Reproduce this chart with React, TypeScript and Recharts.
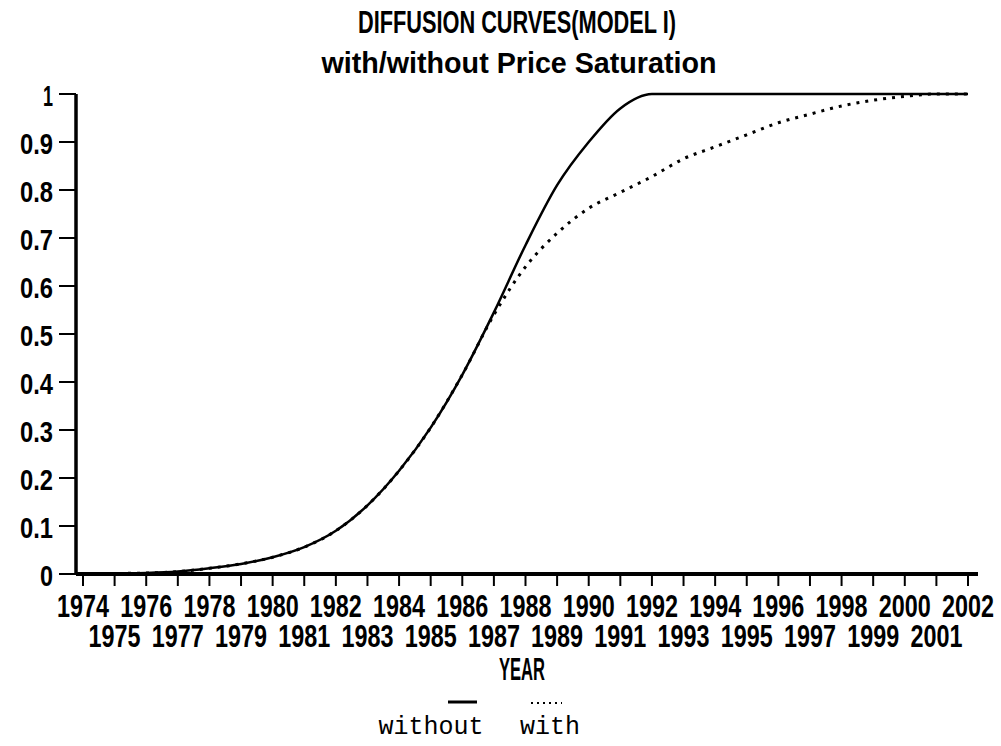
import { LineChart, Line, XAxis, YAxis } from 'recharts'

const years = [
  1974, 1975, 1976, 1977, 1978, 1979, 1980, 1981, 1982, 1983,
  1984, 1985, 1986, 1987, 1988, 1989, 1990, 1991, 1992, 1993,
  1994, 1995, 1996, 1997, 1998, 1999, 2000, 2001, 2002,
]

// share adopted, no price saturation
const withoutSat = [
  0, 0.001, 0.002, 0.005, 0.012, 0.021, 0.035, 0.056, 0.09, 0.143,
  0.215, 0.305, 0.415, 0.545, 0.685, 0.81, 0.9, 0.97, 1, 1,
  1, 1, 1, 1, 1, 1, 1, 1, 1,
]

// share adopted, with price saturation
const withSat = [
  0, 0.001, 0.002, 0.005, 0.012, 0.021, 0.035, 0.056, 0.09, 0.143,
  0.215, 0.305, 0.415, 0.54, 0.64, 0.71, 0.762, 0.795, 0.828, 0.865,
  0.89, 0.915, 0.94, 0.958, 0.975, 0.987, 0.995, 1, 1,
]

const yTicks = [0, 0.1, 0.2, 0.3, 0.4, 0.5, 0.6, 0.7, 0.8, 0.9, 1]

const data = years.map((year, i) => ({
  year,
  without: withoutSat[i],
  with: withSat[i],
}))

const FONT = "'Liberation Sans', Arial, sans-serif"
const MONO = "'Liberation Mono', 'DejaVu Sans Mono', monospace"

// narrow plotter-style lettering: squeeze glyphs to a fixed advance
const labelWidth = (s: string) => {
  if (s === '1') return 10
  let w = 0
  for (const c of s) w += c === '.' ? 7 : 13
  return w
}

function Narrow({ x, y, text, width, anchor = 'middle', size = 31 }: any) {
  return (
    <text
      x={x}
      y={y}
      textAnchor={anchor}
      fill="#000"
      fontFamily={FONT}
      fontWeight="bold"
      fontSize={size}
      textLength={width}
      lengthAdjust="spacingAndGlyphs"
    >
      {text}
    </text>
  )
}

// even years on the first row, odd years on the second
function YearTick({ x, y, payload }: any) {
  const s = String(payload.value)
  const odd = payload.value % 2 === 1
  return <Narrow x={x} y={y + (odd ? 61 : 31)} text={s} width={labelWidth(s)} />
}

function ShareTick({ x, y, payload }: any) {
  const v = payload.value
  const s = v === 0 || v === 1 ? String(v) : v.toFixed(1)
  return <Narrow x={x} y={y + 12} text={s} width={labelWidth(s)} anchor="end" size={30} />
}

export default function App() {
  return (
    <div style={{ position: 'absolute', left: 0, top: 0, width: 1001, height: 746, background: '#fff' }}>
      <LineChart
        width={1001}
        height={746}
        data={data}
        margin={{ top: 94, right: 23, bottom: 92, left: 16 }}
      >
        <XAxis
          dataKey="year"
          type="number"
          domain={[1974, 2002]}
          ticks={years}
          interval={0}
          padding={{ left: 7, right: 10 }}
          height={80}
          tickSize={12}
          tickMargin={0}
          axisLine={{ stroke: '#000', strokeWidth: 4 }}
          tickLine={{ stroke: '#000', strokeWidth: 2 }}
          tick={<YearTick />}
        />
        <XAxis
          xAxisId="top"
          dataKey="year"
          type="number"
          domain={[1974, 2002]}
          orientation="top"
          height={0}
          tick={false}
          tickLine={false}
          axisLine={{ stroke: '#000', strokeWidth: 4 }}
        />
        <YAxis
          domain={[0, 1]}
          ticks={yTicks}
          interval={0}
          width={60}
          tickSize={17}
          tickMargin={6}
          axisLine={{ stroke: '#000', strokeWidth: 3.5 }}
          tickLine={{ stroke: '#000', strokeWidth: 2 }}
          tick={<ShareTick />}
        />
        <YAxis
          yAxisId="right"
          orientation="right"
          domain={[0, 1]}
          width={0}
          tick={false}
          tickLine={false}
          axisLine={{ stroke: '#000', strokeWidth: 3.5 }}
        />
        <Line
          dataKey="with"
          type="monotone"
          stroke="#000"
          strokeWidth={3}
          strokeDasharray="3 6"
          dot={false}
          isAnimationActive={false}
        />
        <Line
          dataKey="without"
          type="monotone"
          stroke="#000"
          strokeWidth={2.5}
          dot={false}
          isAnimationActive={false}
        />
      </LineChart>

      <svg style={{ position: 'absolute', left: 0, top: 0 }} width={1001} height={746}>
        <Narrow x={517} y={33} text="DIFFUSION CURVES(MODEL I)" width={318} size={32} />
        <Narrow x={519} y={73} text="with/without Price Saturation" width={395} size={30} />
        <Narrow x={522} y={680} text="YEAR" width={46} />
        <line x1={448} x2={477} y1={702} y2={702} stroke="#000" strokeWidth={3} />
        <line x1={531} x2={562} y1={703} y2={703} stroke="#000" strokeWidth={2} strokeDasharray="2 4" />
        <text x={431} y={734} textAnchor="middle" fontFamily={MONO} fontSize={25} fill="#000">without</text>
        <text x={550} y={734} textAnchor="middle" fontFamily={MONO} fontSize={25} fill="#000">with</text>
      </svg>
    </div>
  )
}
